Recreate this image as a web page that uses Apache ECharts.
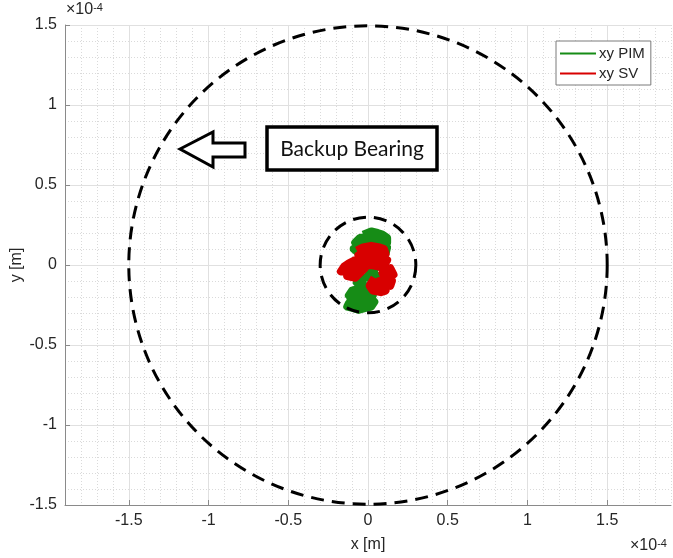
<!DOCTYPE html>
<html lang="en">
<head>
    <meta charset="UTF-8">
    <title>xy orbit</title>
    <script src="https://cdn.jsdelivr.net/npm/echarts@6.0.0/dist/echarts.min.js"></script>
</head>
<body style="margin:0;background:#fff;">

    <div id="main" style="width: 673px;height:558px;"></div>

    <script type="text/javascript">

      // tick labels (units of 1e-4 m)
      var xTicks = [-1.5, -1, -0.5, 0, 0.5, 1, 1.5]
      var yTicks = [-1.5, -1, -0.5, 0, 0.5, 1, 1.5]

      // dashed reference circles: [cx, cy, r]
      var circles = [[0, 0, 1.5], [0, 0, 0.3]]

      // orbit traces, [x, y] in 1e-4 m
      var pimXY = [
        [-0.03, 0.19], [0.02, 0.21], [0.06, 0.20], [0.09, 0.19], [0.12, 0.17], [0.12, 0.14],
        [0.06, 0.17], [0.00, 0.18], [-0.05, 0.17], [-0.08, 0.14], [-0.03, 0.14], [0.03, 0.15],
        [0.09, 0.14], [0.12, 0.11], [0.11, 0.07], [0.07, 0.10], [0.02, 0.11], [-0.04, 0.10],
        [-0.09, 0.10], [-0.04, 0.06], [0.02, 0.03], [0.05, -0.01], [0.03, -0.05], [0.06, -0.07],
        [0.01, -0.04], [0.00, -0.08], [-0.04, -0.08], [-0.07, -0.11], [-0.02, -0.13], [-0.06, -0.15],
        [-0.10, -0.16], [-0.12, -0.19], [-0.09, -0.21], [-0.12, -0.24], [-0.13, -0.26], [-0.09, -0.27],
        [-0.06, -0.28], [-0.02, -0.27], [0.02, -0.26], [0.04, -0.23], [0.01, -0.20], [-0.03, -0.18],
        [0.01, -0.15], [0.03, -0.19], [-0.02, -0.23], [-0.05, -0.25], [-0.04, -0.20], [-0.08, -0.18],
        [-0.11, -0.21], [-0.08, -0.25], [-0.11, -0.26]
      ]

      var svXY = [
        [-0.07, 0.09], [-0.03, 0.11], [0.02, 0.12], [0.07, 0.11], [0.10, 0.10], [0.11, 0.07],
        [0.08, 0.08], [0.03, 0.09], [-0.02, 0.08], [-0.06, 0.06], [-0.02, 0.05], [0.03, 0.06],
        [0.08, 0.05], [0.12, 0.03], [0.10, 0.00], [0.06, 0.02], [0.02, 0.02], [-0.03, 0.02],
        [-0.08, 0.03], [-0.12, 0.01], [-0.15, -0.01], [-0.17, -0.04], [-0.14, -0.04], [-0.10, -0.05],
        [-0.13, -0.07], [-0.08, -0.08], [-0.05, -0.05], [-0.02, -0.02], [-0.05, 0.00], [-0.10, -0.02],
        [-0.06, -0.01], [0.02, 0.00], [0.07, -0.01], [0.11, -0.03], [0.14, -0.02], [0.16, -0.06],
        [0.13, -0.06], [0.09, -0.05], [0.11, -0.09], [0.15, -0.10], [0.14, -0.13], [0.11, -0.12],
        [0.07, -0.10], [0.04, -0.12], [0.08, -0.14], [0.11, -0.16], [0.08, -0.17], [0.03, -0.16],
        [0.01, -0.13], [0.04, -0.08]
      ]

      var font = 'Liberation Sans, Arial, sans-serif'
      var txt = '#262626'

      var myChart = echarts.init(document.getElementById('main'))

      function tickFmt(v) {
        return String(Math.round(v * 10) / 10)
      }

      var expText = {
        text: '{a|×10}{b|-4}',
        rich: {
          a: { fontFamily: font, fontSize: 16, fill: txt },
          b: { fontFamily: font, fontSize: 11, fill: txt, verticalAlign: 'top' }
        }
      }

      var option = {
        animation: false,
        backgroundColor: '#fff',
        grid: { left: 65, right: 2, top: 25, bottom: 53, outerBoundsMode: 'none' },
        legend: {
          data: ['xy PIM', 'xy SV'],
          orient: 'vertical',
          left: 556, top: 41,
          icon: 'rect',
          itemWidth: 36, itemHeight: 2,
          itemGap: 5,
          padding: [5, 6, 4, 4],
          borderColor: '#7a7a7a', borderWidth: 1,
          backgroundColor: '#fff',
          textStyle: { fontFamily: font, fontSize: 15, color: txt, padding: [0, 0, 0, -2] }
        },
        xAxis: [
          {
            type: 'value', min: -1.9, max: 1.9, interval: 0.1, position: 'bottom', z: 1,
            name: 'x [m]', nameLocation: 'middle', nameGap: 32, nameMoveOverlap: false,
            nameTextStyle: { fontFamily: font, fontSize: 16, color: txt },
            axisLine: { onZero: false, lineStyle: { color: '#8a8a8a' } },
            axisTick: { inside: true, length: 5, customValues: xTicks, lineStyle: { color: '#8a8a8a' } },
            axisLabel: { customValues: xTicks, formatter: tickFmt, margin: 8, fontFamily: font, fontSize: 16, color: txt },
            splitLine: { show: true, lineStyle: { color: '#e0e0e0' } }
          },
          {
            type: 'value', min: -1.9, max: 1.9, interval: 0.1, position: 'top', z: 0,
            axisLine: { show: false }, axisTick: { show: false }, axisLabel: { show: false },
            splitLine: { show: true, lineStyle: { color: '#dadada', type: [1, 2] } }
          }
        ],
        yAxis: [
          {
            type: 'value', min: -1.5, max: 1.5, interval: 0.5, position: 'left', z: 1,
            name: 'y [m]', nameLocation: 'middle', nameGap: 40, nameRotate: 90, nameMoveOverlap: false,
            nameTextStyle: { fontFamily: font, fontSize: 16, color: txt },
            axisLine: { onZero: false, lineStyle: { color: '#8a8a8a' } },
            axisTick: { inside: true, length: 5, customValues: yTicks, lineStyle: { color: '#8a8a8a' } },
            axisLabel: { customValues: yTicks, formatter: tickFmt, margin: 8, fontFamily: font, fontSize: 16, color: txt },
            splitLine: { show: true, lineStyle: { color: '#e0e0e0' } }
          },
          {
            type: 'value', min: -1.5, max: 1.5, interval: 0.1, position: 'right', z: 0,
            axisLine: { show: false }, axisTick: { show: false }, axisLabel: { show: false },
            splitLine: { show: true, lineStyle: { color: '#dadada', type: [1, 2] } }
          }
        ],
        series: [
          {
            name: 'xy PIM', type: 'line', data: pimXY, showSymbol: false, z: 3,
            color: '#168c16',
            lineStyle: { width: 8, color: '#168c16', join: 'round' }
          },
          {
            name: 'xy SV', type: 'line', data: svXY, showSymbol: false, z: 4,
            color: '#d80000',
            lineStyle: { width: 8, color: '#d80000', join: 'round' }
          },
          {
            name: 'circles', type: 'custom', data: circles, clip: false, z: 5,
            renderItem: function (params, api) {
              var c = api.coord([api.value(0), api.value(1)])
              var r = api.size([api.value(2), 0])[0]
              return {
                type: 'circle',
                shape: { cx: c[0], cy: c[1], r: r },
                style: { fill: null, stroke: '#000', lineWidth: 3, lineDash: [13, 8] }
              }
            }
          }
        ],
        graphic: [
          // exponent markers
          { type: 'text', left: 66, top: 2, style: expText },
          { type: 'text', left: 630, top: 538, style: expText },
          // hollow arrow
          {
            type: 'polygon', z: 10,
            shape: { points: [[180, 149], [213, 132], [213, 143], [245, 143], [245, 157], [213, 157], [213, 167]] },
            style: { fill: '#fff', stroke: '#000', lineWidth: 3 }
          },
          // text box
          {
            type: 'rect', z: 10,
            shape: { x: 267, y: 127, width: 170, height: 43 },
            style: { fill: '#fff', stroke: '#000', lineWidth: 3.5 }
          },
          {
            type: 'text', z: 11, x: 352, y: 149,
            style: { text: 'Backup Bearing', fontFamily: 'Lato, Open Sans, sans-serif', fontSize: 21, fill: '#111', align: 'center', verticalAlign: 'middle' }
          }
        ]
      }

      myChart.setOption(option)

    </script>
  </body>
</html>
